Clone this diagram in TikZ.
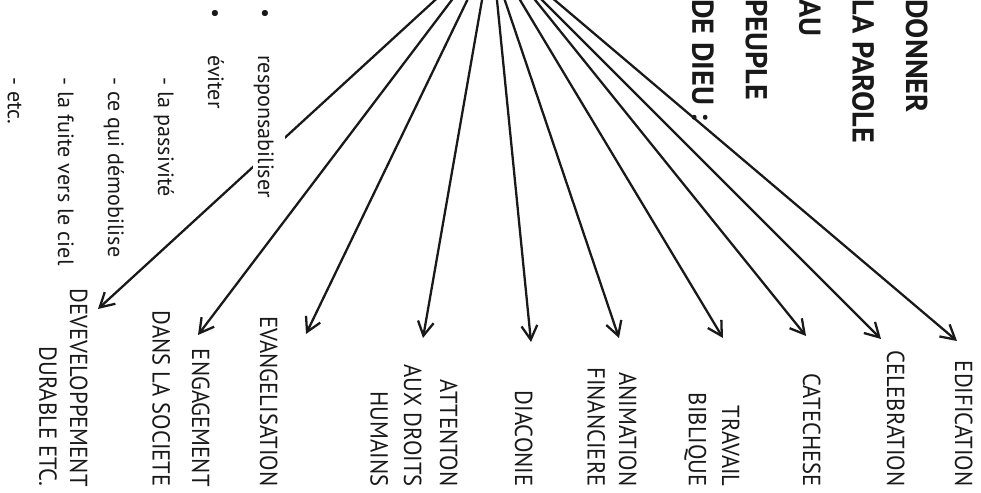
\documentclass[tikz,border=0pt]{standalone}
\usepackage{fontspec}
\setmainfont{PT Sans}
\newfontfamily\etroit{PT Sans}[FakeStretch=0.92]
\usetikzlibrary{arrows.meta}

\begin{document}
\begin{tikzpicture}[x=0.02cm, y=-0.02cm, every node/.style={text=black!90},
    titre/.style={rotate=-90, anchor=north west, align=left, inner sep=0pt, font=\fontsize{17.2}{30.4}\selectfont\bfseries},
    lbl/.style={rotate=-90, anchor=north east, align=right, inner sep=0pt, font=\etroit\fontsize{14}{19}\selectfont},
    item/.style={rotate=-90, anchor=base west, inner sep=0pt, font=\fontsize{12.6}{14}\selectfont},
    fl/.style={-{Straight Barb[length=8pt,width=9pt]}, line width=1.3pt, black!90}]

    \useasboundingbox (0,0) rectangle (981,493);
    \clip (0,0) rectangle (981,493);

    \coordinate (s1) at (457,-20);
    \coordinate (s2) at (467,-20);
    \coordinate (s3) at (477,-20);
    \coordinate (s4) at (485.5,-20);
    \coordinate (s5) at (495,-20);
    \coordinate (s6) at (498,-20);
    \coordinate (s7) at (508,-20);
    \coordinate (s8) at (519,-20);
    \coordinate (s9) at (522,-20);
    \coordinate (s10) at (531,-20);

    \coordinate (t1) at (98,309);
    \coordinate (t2) at (198,335);
    \coordinate (t3) at (306,334);
    \coordinate (t4) at (423,338);
    \coordinate (t5) at (531,342);
    \coordinate (t6) at (619,338);
    \coordinate (t7) at (723,338);
    \coordinate (t8) at (806,336);
    \coordinate (t9) at (881,339);
    \coordinate (t10) at (957,341);

    \draw [fl] (s1) -- (t1);
    \draw [fl] (s2) -- (t2);
    \draw [fl] (s3) -- (t3);
    \draw [fl] (s4) -- (t4);
    \draw [fl] (s5) -- (t5);
    \draw [fl] (s6) -- (t6);
    \draw [fl] (s7) -- (t7);
    \draw [fl] (s8) -- (t8);
    \draw [fl] (s9) -- (t9);
    \draw [fl] (s10) -- (t10);

    \node [titre] (titre) at (928,-1) {DONNER\\LA PAROLE\\AU\\PEUPLE\\DE DIEU :};

    \node [item] (b1) at (258,8) {\textbullet};
    \node [item, fill=white, inner ysep=0.8pt, text height=14.5pt, text depth=2pt] (resp) at (258,55) {responsabiliser};
    \node [item] (b2) at (208,8) {\textbullet};
    \node [item] (evit) at (208,55) {éviter};
    \node [item] (pass) at (158,77) {- la passivité};
    \node [item] (demob) at (108,77) {- ce qui démobilise};
    \node [item] (fuite) at (58,77) {- la fuite vers le ciel};
    \node [item] (etc) at (8,77) {- etc.};

    \node [lbl] (dev) at (88,487) {DEVEVELOPPEMENT\\[-1.5pt]DURABLE ETC.};
    \node [lbl] (eng) at (210,487) {ENGAGEMENT\\[3.5pt]DANS LA SOCIETE};
    \node [lbl] (evan) at (278,487) {EVANGELISATION};
    \node [lbl] (att) at (458,487) {ATTENTON\\[1.5pt]AUX DROITS\\HUMAINS};
    \node [lbl] (diac) at (533,487) {DIACONIE};
    \node [lbl] (anim) at (637,487) {ANIMATION\\[-1pt]FINANCIERE};
    \node [lbl] (trav) at (740,487) {TRAVAIL\\BIBLIQUE};
    \node [lbl] (cat) at (821,487) {CATECHESE};
    \node [lbl] (cel) at (905,487) {CELEBRATION};
    \node [lbl] (edif) at (973,487) {EDIFICATION};

\end{tikzpicture}
\end{document}
